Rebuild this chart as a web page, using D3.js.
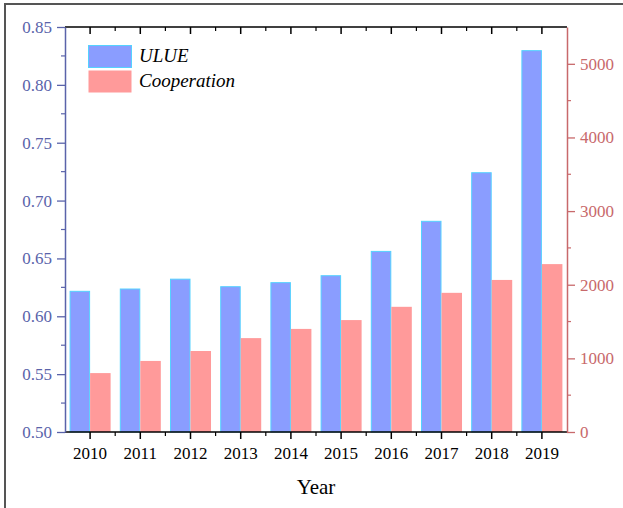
<!DOCTYPE html>
<html>
<head>
<meta charset="utf-8">
<script src="https://cdn.jsdelivr.net/npm/d3@7/dist/d3.min.js"></script>
<style>
  html, body { margin: 0; padding: 0; background: #fff; }
  svg { display: block; }
</style>
</head>
<body>
<svg id="chart" width="623" height="508" font-family="Liberation Serif, Times New Roman, serif"></svg>
<script>
// Yearly values
const years = ["2010","2011","2012","2013","2014","2015","2016","2017","2018","2019"];
const ulue = [0.622, 0.624, 0.6325, 0.626, 0.6295, 0.6355, 0.6565, 0.6825, 0.7245, 0.830];
const cooperation = [800, 965, 1100, 1275, 1400, 1520, 1700, 1890, 2065, 2280];
const seriesNames = ["ULUE", "Cooperation"];
const leftTicks = [0.50, 0.55, 0.60, 0.65, 0.70, 0.75, 0.80, 0.85];
const rightTicks = [0, 1000, 2000, 3000, 4000, 5000];

const W = 623, H = 508;
const m = { left: 65, right: 56, top: 27, bottom: 76 };
const x0 = m.left, x1 = W - m.right, yTop = m.top, yBot = H - m.bottom;

const leftColor = "#5a63aa", rightColor = "#c8696b";
const blueFill = "#8a9dff", blueEdge = "#55d2ff", redFill = "#ff9a9a";
const serif = "Liberation Serif";

const svg = d3.select("#chart");

// outer frame
svg.append("rect").attr("x", 5).attr("y", 4).attr("width", W + 10).attr("height", H + 10)
  .attr("fill", "none").attr("stroke", "#555").attr("stroke-width", 2);

const x = d3.scaleBand().domain(years).range([x0, x1]).paddingInner(0.183).paddingOuter(0.0915);
const xs = d3.scaleBand().domain(seriesNames).range([0, x.bandwidth()]);
const yL = d3.scaleLinear().domain([0.5, 0.85]).range([yBot, yTop]);
const yR = d3.scaleLinear().domain([0, 5500]).range([yBot, yTop]);

// bars
const g = svg.append("g");
years.forEach((yr, i) => {
  const bx = x(yr);
  g.append("rect")
    .attr("x", bx + xs("ULUE") + 0.5).attr("y", yL(ulue[i]) + 0.5)
    .attr("width", xs.bandwidth() - 1).attr("height", yBot - yL(ulue[i]) - 0.5)
    .attr("fill", blueFill).attr("stroke", blueEdge).attr("stroke-width", 1);
  g.append("rect")
    .attr("x", bx + xs("Cooperation")).attr("y", yR(cooperation[i]))
    .attr("width", xs.bandwidth()).attr("height", yBot - yR(cooperation[i]))
    .attr("fill", redFill);
});

// x axes (bottom outward, top inward), with minor ticks at band boundaries
const step = x.step();
const boundaries = d3.range(years.length + 1).map(k => x0 + k * step);
const centers = years.map(y => x(y) + x.bandwidth() / 2);

const xb = svg.append("g");
xb.append("line").attr("x1", x0).attr("x2", x1).attr("y1", yBot).attr("y2", yBot).attr("stroke", "#000").attr("stroke-width", 1.5);
xb.selectAll(".maj").data(centers).join("line").attr("class", "maj").attr("x1", d => d).attr("x2", d => d)
  .attr("y1", yBot).attr("y2", yBot + 7).attr("stroke", "#000").attr("stroke-width", 1.5);
xb.selectAll(".min").data(boundaries.slice(1, -1)).join("line").attr("class", "min").attr("x1", d => d).attr("x2", d => d)
  .attr("y1", yBot).attr("y2", yBot + 4).attr("stroke", "#000").attr("stroke-width", 1.2);
xb.selectAll(".lab").data(years).join("text").attr("class", "lab")
  .attr("x", (d, i) => centers[i]).attr("y", yBot + 27).attr("text-anchor", "middle")
  .attr("font-family", serif).attr("font-size", 17).attr("fill", "#000").text(d => d);

const xt = svg.append("g");
xt.append("line").attr("x1", x0).attr("x2", x1).attr("y1", yTop).attr("y2", yTop).attr("stroke", "#000").attr("stroke-width", 1.5);
xt.selectAll(".maj").data(centers).join("line").attr("class", "maj").attr("x1", d => d).attr("x2", d => d)
  .attr("y1", yTop).attr("y2", yTop + 7).attr("stroke", "#000").attr("stroke-width", 1.5);
xt.selectAll(".min").data(boundaries.slice(1, -1)).join("line").attr("class", "min").attr("x1", d => d).attr("x2", d => d)
  .attr("y1", yTop).attr("y2", yTop + 4).attr("stroke", "#000").attr("stroke-width", 1.2);

// left axis: line and ticks from d3, labels drawn as plain text
const la = svg.append("g").attr("transform", `translate(${x0},0)`)
  .call(d3.axisLeft(yL).tickValues(leftTicks).tickFormat("").tickSize(8).tickSizeOuter(0));
la.select(".domain").attr("stroke", leftColor).attr("stroke-width", 1.5);
la.selectAll(".tick line").attr("stroke", leftColor).attr("stroke-width", 1.3);
la.selectAll(".tick text").remove();
const leftMinor = d3.range(leftTicks.length - 1).map(i => (leftTicks[i] + leftTicks[i + 1]) / 2);
la.selectAll(".minor").data(leftMinor).join("line").attr("class", "minor")
  .attr("x1", 0).attr("x2", -4).attr("y1", d => yL(d)).attr("y2", d => yL(d))
  .attr("stroke", leftColor).attr("stroke-width", 1.2);
svg.append("g").selectAll("text").data(leftTicks).join("text")
  .attr("x", x0 - 13).attr("y", d => yL(d) + 6).attr("text-anchor", "end")
  .attr("font-family", serif).attr("font-size", 17).attr("fill", leftColor)
  .text(d3.format(".2f"));

// right axis
const ra = svg.append("g").attr("transform", `translate(${x1},0)`)
  .call(d3.axisRight(yR).tickValues(rightTicks).tickFormat("").tickSize(8).tickSizeOuter(0));
ra.select(".domain").attr("stroke", rightColor).attr("stroke-width", 1.5);
ra.selectAll(".tick line").attr("stroke", rightColor).attr("stroke-width", 1.3);
ra.selectAll(".tick text").remove();
const rightMinor = d3.range(500, 5500, 1000);
ra.selectAll(".minor").data(rightMinor).join("line").attr("class", "minor")
  .attr("x1", 0).attr("x2", 4).attr("y1", d => yR(d)).attr("y2", d => yR(d))
  .attr("stroke", rightColor).attr("stroke-width", 1.2);
svg.append("g").selectAll("text").data(rightTicks).join("text")
  .attr("x", x1 + 13).attr("y", d => yR(d) + 6).attr("text-anchor", "start")
  .attr("font-family", serif).attr("font-size", 17).attr("fill", rightColor)
  .text(d3.format("d"));

// x title
svg.append("text").attr("x", (x0 + x1) / 2).attr("y", 494).attr("text-anchor", "middle")
  .attr("font-family", serif).attr("font-size", 21).attr("fill", "#000").text("Year");

// legend
const lg = svg.append("g").attr("transform", "translate(88,45)");
const legendItems = [
  { name: "ULUE", fill: blueFill, stroke: blueEdge },
  { name: "Cooperation", fill: redFill, stroke: "none" }
];
legendItems.forEach((d, i) => {
  lg.append("rect").attr("x", 0.5).attr("y", i * 25 + 0.5).attr("width", 43).attr("height", 22)
    .attr("fill", d.fill).attr("stroke", d.stroke).attr("stroke-width", 1);
  lg.append("text").attr("x", 51).attr("y", i * 25 + 17)
    .attr("font-family", serif).attr("font-size", 19).attr("font-style", "italic")
    .attr("fill", "#000").text(d.name);
});
</script>
</body>
</html>
